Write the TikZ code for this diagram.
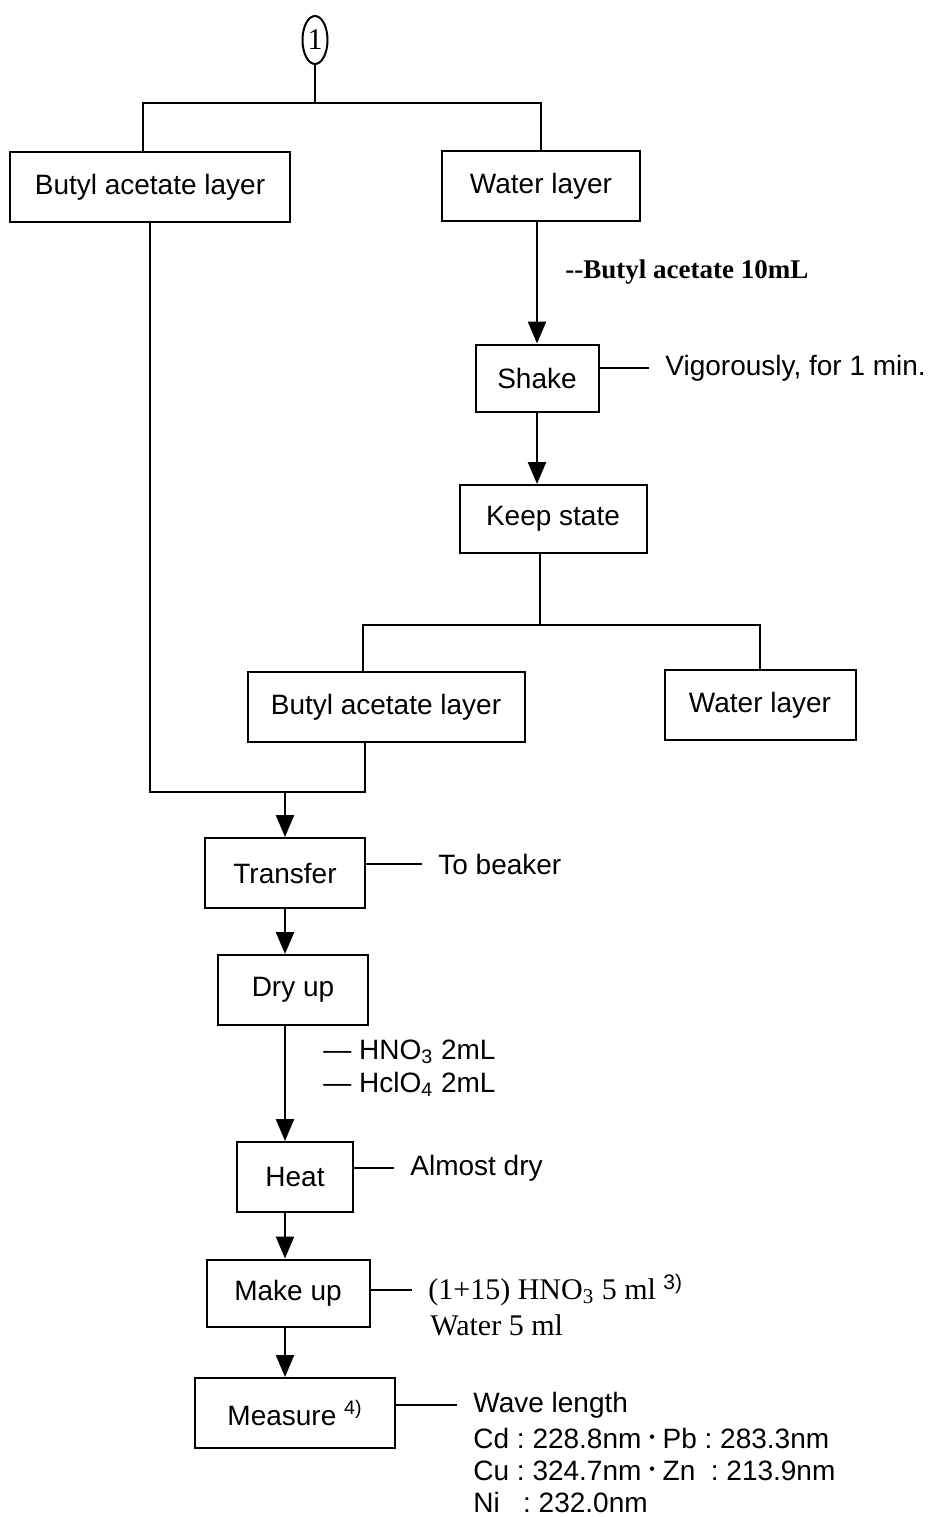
\documentclass[tikz,border=0pt]{standalone}
\usepackage{fontspec}
\setmainfont{Liberation Sans}
\newfontfamily\timesfont{Liberation Serif}
\usetikzlibrary{arrows.meta,positioning,calc,shapes.geometric}
\newcommand{\wdot}{\raisebox{0.4ex}{\fontsize{8}{8}\selectfont •}}
\frenchspacing

\begin{document}
\begin{tikzpicture}[x=0.5pt,y=-0.5pt,
    every node/.style={font=\fontsize{14}{16}\selectfont},
    box/.style={draw,line width=1pt,minimum height=35pt,inner sep=0pt},
    note/.style={anchor=west,inner xsep=8pt,inner ysep=1pt,align=left},
    serifnote/.style={note,font=\timesfont\fontsize{15}{17}\selectfont},
    ln/.style={line width=1.2pt},
    tie/.style={line width=0.7pt},
    arr/.style={-{Triangle[length=11pt,width=9pt]},line width=1.2pt}
]
\useasboundingbox (0,0) rectangle (932,1517);

\node[draw,ellipse,line width=1pt,minimum width=12.5pt,minimum height=24pt,inner sep=0pt,font=\timesfont\fontsize{15}{16}\selectfont] (one) at (315,40) {1};

\node[box,minimum width=140pt] (ba1) at (150,187) {Butyl acetate layer};
\node[box,minimum width=99pt] (wl1) at (541,186) {Water layer};
\node[box,minimum width=61.5pt,minimum height=33.5pt] (shake) at (537,378) {Shake};
\node[box,minimum width=93.5pt,minimum height=34pt] (keep) at (553,519) {Keep state};
\node[box,minimum width=138.5pt] (ba2) at (386,707) {Butyl acetate layer};
\node[box,minimum width=95.5pt] (wl2) at (760,705) {Water layer};
\node[box,minimum width=80pt] (transfer) at (285,873) {Transfer};
\node[box,minimum width=75pt] (dry) at (293,990) {Dry up};
\node[box,minimum width=58pt] (heat) at (295,1177) {Heat};
\node[box,minimum width=81.5pt,minimum height=33.5pt] (makeup) at (288,1293) {Make up};
\node[box,minimum width=100pt] (measure) at (295,1413) {Measure \textsuperscript{4)}};

% notes beside the flow
\node[note,font=\timesfont\bfseries\fontsize{13.5}{15}\selectfont] (addba) at (549,272) {-{}-Butyl acetate 10mL};
\node[note] (vig) at (649,368) {Vigorously, for 1 min.};
\node[note] (beaker) at (422,864) {To beaker};
\node[note] (hno) at (307,1052) {— HNO\textsubscript{3} 2mL};
\node[note] (hclo) at (307,1084) {— HclO\textsubscript{4} 2mL};
\node[note] (almost) at (394,1168) {Almost dry};
\node[serifnote] (mk1) at (412,1290) {(1+15) HNO\textsubscript{3} 5 ml {\rmfamily\textsuperscript{3)}}};
\node[serifnote] (mk2) at (414,1325) {Water 5 ml};
\node[note] (wave) at (457,1405) {Wave length};
\node[note,font=\fontsize{14}{16}\selectfont] (wavedata) at (457,1470) {Cd : 228.8nm \wdot\ Pb : 283.3nm\\Cu : 324.7nm \wdot\ Zn\ \ : 213.9nm\\Ni\ \ \ : 232.0nm};

\coordinate (split1) at (315,103);
\coordinate (split2) at (540,625);
\coordinate (join) at (285,792);

\draw[ln] (one) -- (split1);
\draw[ln] ([xshift=-3.5pt]ba1.north) |- (split1) -| (wl1.north);
\draw[arr] (shake.north |- wl1.south) -- (shake.north);
\draw[arr] (shake.south) -- (shake.south |- keep.north);
\draw[ln] (keep.south -| split2) -- (split2);
\draw[ln] ([xshift=-11.5pt]ba2.north) |- (split2) -| (wl2.north);
\draw[ln] (ba1.south) |- (join) -| ([xshift=-10.5pt]ba2.south);
\draw[arr] (join) -- (transfer.north);
\draw[arr] (transfer.south) -- (transfer.south |- dry.north);
\draw[arr] (dry.south -| transfer) -- (heat.north -| transfer);
\draw[arr] (heat.south -| transfer) -- (makeup.north -| transfer);
\draw[arr] (makeup.south -| transfer) -- (measure.north -| transfer);

\draw[tie] (shake.east |- vig) -- (vig.west);
\draw[tie] (transfer.east |- beaker) -- (beaker.west);
\draw[tie] (heat.east |- almost) -- (almost.west);
\draw[tie] (makeup.east |- mk1) -- (mk1.west);
\draw[tie] (measure.east |- wave) -- (wave.west);
\end{tikzpicture}
\end{document}
